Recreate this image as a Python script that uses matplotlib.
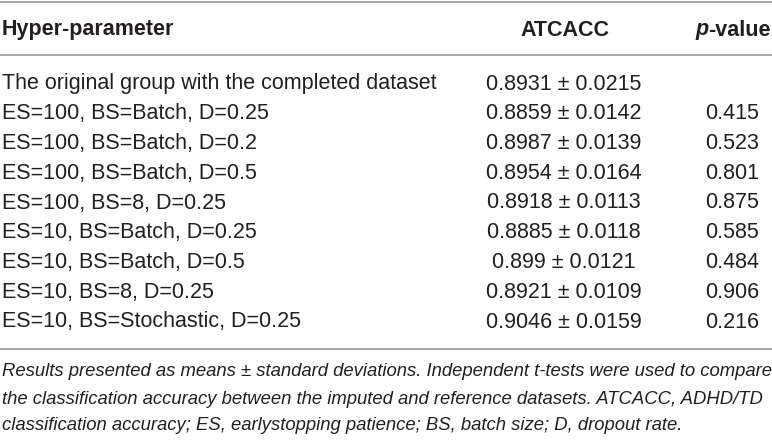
import matplotlib.pyplot as plt

# table contents
params = [
    "The original group with the completed dataset",
    "ES=100, BS=Batch, D=0.25",
    "ES=100, BS=Batch, D=0.2",
    "ES=100, BS=Batch, D=0.5",
    "ES=100, BS=8, D=0.25",
    "ES=10, BS=Batch, D=0.25",
    "ES=10, BS=Batch, D=0.5",
    "ES=10, BS=8, D=0.25",
    "ES=10, BS=Stochastic, D=0.25",
]
acc_mean = ["0.8931", "0.8859", "0.8987", "0.8954", "0.8918", "0.8885", "0.899", "0.8921", "0.9046"]
acc_sd = ["0.0215", "0.0142", "0.0139", "0.0164", "0.0113", "0.0118", "0.0121", "0.0109", "0.0159"]
p_values = ["", "0.415", "0.523", "0.801", "0.875", "0.585", "0.484", "0.906", "0.216"]

footnote = [
    "Results presented as means \u00b1 standard deviations. Independent t-tests were used to compare",
    "the classification accuracy between the imputed and reference datasets. ATCACC, ADHD/TD",
    "classification accuracy; ES, earlystopping patience; BS, batch size; D, dropout rate.",
]

plt.rcParams['font.family'] = ['Liberation Sans', 'DejaVu Sans']
txt_col = '#231f20'
line_col = '#a0a0a0'

fig = plt.figure(figsize=(7.72, 4.40), dpi=100)
ax = fig.add_axes([0, 0, 1, 1])
ax.set_xlim(0, 772)
ax.set_ylim(440, 0)
ax.axis('off')

# horizontal rules
for y in (2, 55, 349):
    ax.plot([0, 772], [y, y], color=line_col, lw=1.3)

fs = 15.5
ax.text(2, 30, "Hyper-parameter", fontsize=fs, fontweight='bold', color=txt_col, va='center')
ax.text(565, 30, "ATCACC", fontsize=fs, fontweight='bold', color=txt_col, va='center', ha='center')
pv = ax.text(771, 30, "-value", fontsize=fs, fontweight='bold', color=txt_col, va='center', ha='right')

# italic p right before "-value"
fig.canvas.draw()
bb = pv.get_window_extent().transformed(ax.transData.inverted())
ax.text(min(bb.x0, bb.x1), 30, "p", fontsize=fs, fontweight='bold', style='italic',
        color=txt_col, va='center', ha='right')

row_y0 = 84
row_dy = 29.75
for i, name in enumerate(params):
    y = row_y0 + i * row_dy
    ax.text(2, y, name, fontsize=fs, color=txt_col, va='center')
    ax.text(564, y, f"{acc_mean[i]} \u00b1 {acc_sd[i]}", fontsize=fs, color=txt_col,
            va='center', ha='center')
    if p_values[i]:
        ax.text(732, y, p_values[i], fontsize=fs, color=txt_col, va='center', ha='center')

for j, line in enumerate(footnote):
    ax.text(2, 372 + j * 27, line, fontsize=13.3, style='italic', color=txt_col, va='center')

fig.savefig('out.png', dpi=100)
